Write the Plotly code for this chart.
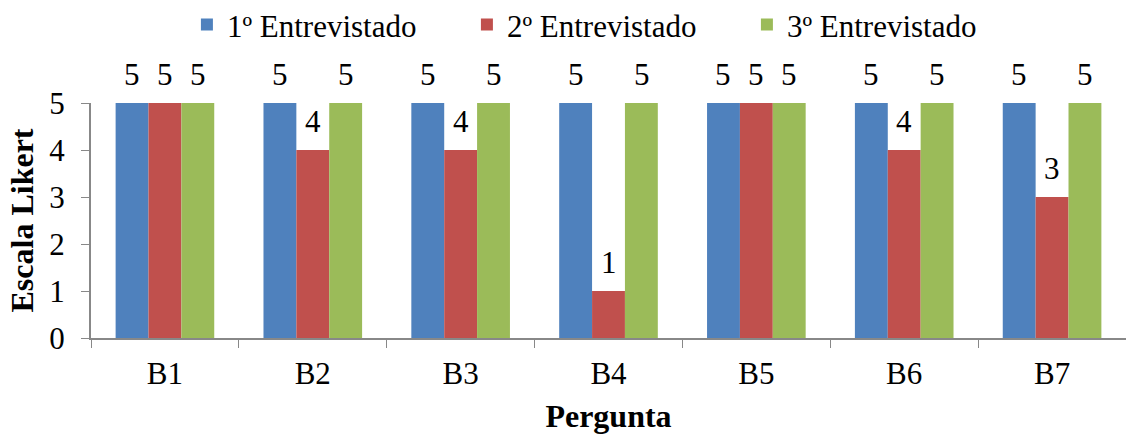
import plotly.graph_objects as go

categories = ["B1", "B2", "B3", "B4", "B5", "B6", "B7"]
series_names = ["1º Entrevistado", "2º Entrevistado", "3º Entrevistado"]
entrevistado1 = [5, 5, 5, 5, 5, 5, 5]
entrevistado2 = [5, 4, 4, 1, 5, 4, 3]
entrevistado3 = [5, 5, 5, 5, 5, 5, 5]
colors = ["#4F81BD", "#C0504D", "#9BBB59"]
label_xshift = [-33, 0, 33]

FONT = "Times New Roman"

fig = go.Figure()
all_vals = [entrevistado1, entrevistado2, entrevistado3]
for name, vals, col in zip(series_names, all_vals, colors):
    fig.add_trace(go.Bar(
        x=categories, y=vals, name=name,
        marker=dict(color=col, line=dict(width=0)),
        cliponaxis=False,
    ))

for vals, dx in zip(all_vals, label_xshift):
    for cat, v in zip(categories, vals):
        fig.add_annotation(x=cat, y=v, text=str(v), showarrow=False,
                           xshift=dx, yshift=29, yanchor="middle",
                           font=dict(family=FONT, size=31, color="black"))

fig.update_layout(
    width=1126, height=435,
    margin=dict(l=91, r=0, t=103, b=97),
    paper_bgcolor="white", plot_bgcolor="white",
    barmode="group", bargap=0.333, bargroupgap=0,
    font=dict(family=FONT, size=31, color="black"),
    showlegend=True,
    legend=dict(orientation="h", yref="container", y=0.943, yanchor="middle",
                xref="container", x=0.539, xanchor="center",
                font=dict(family=FONT, size=31, color="black"),
                itemwidth=30, entrywidth=235, traceorder="normal"),
)
fig.update_xaxes(
    range=[-0.5, 6.5], tickson="boundaries", ticks="outside", ticklen=8,
    tickcolor="#888888", showline=True, linecolor="#888888", linewidth=2,
    showgrid=False, zeroline=False, ticklabelstandoff=7,
    tickfont=dict(family=FONT, size=31, color="black"),
    title=dict(text="<b>Pergunta</b>", font=dict(family=FONT, size=32, color="black"), standoff=14),
)
fig.update_yaxes(
    range=[0, 5], tickvals=[0, 1, 2, 3, 4, 5], ticks="outside", ticklen=8,
    tickcolor="#888888", showline=True, linecolor="#888888", linewidth=2,
    showgrid=False, zeroline=False, ticklabelstandoff=10,
    tickfont=dict(family=FONT, size=31, color="black"),
    title=dict(text="<b>Escala Likert</b>", font=dict(family=FONT, size=32, color="black"), standoff=6),
)

fig.write_html("out.html")
